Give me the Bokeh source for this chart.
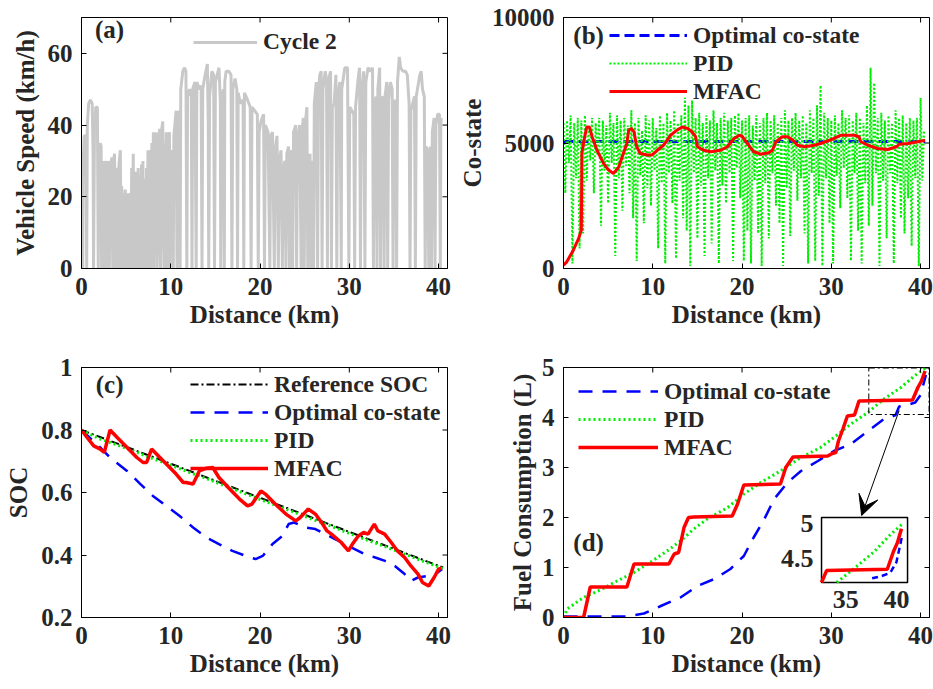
import numpy as np
from bokeh.plotting import figure
from bokeh.layouts import gridplot
from bokeh.models import Range1d, FixedTicker, Label, Arrow, VeeHead
from bokeh.embed import file_html
from bokeh.resources import INLINE
from bokeh.core.properties import value

FONT = "Liberation Serif"
TXT = "#262626"
GRAY = "#c8c8c8"
RED = "#ff0000"
GREEN = "#00ee00"
BLUE = "#0000ff"

# ---------------- (a) driving cycle: (distance km, speed km/h) ----------------
cycle2_points = [
    (0, 0), (0.03, 29), (0.1, 25), (0.14, 0), (0.2, 30), (0.3, 37), (0.5, 37), (0.55, 20), (0.58, 0),
    (0.65, 40), (0.8, 46), (1.0, 47), (1.2, 46), (1.3, 32), (1.35, 0), (1.45, 38), (1.6, 45), (1.78, 45),
    (1.85, 12), (1.88, 0), (1.95, 30), (2.1, 35), (2.2, 34), (2.25, 0), (2.3, 25), (2.4, 30), (2.5, 0),
    (2.55, 22), (2.7, 30), (2.8, 19), (2.84, 0), (2.9, 26), (3.05, 30), (3.12, 0), (3.2, 27), (3.4, 31),
    (3.5, 0), (3.55, 29), (3.7, 32), (3.78, 10), (3.82, 0), (3.9, 27), (4.1, 28), (4.15, 0), (4.2, 29),
    (4.35, 33), (4.45, 0), (4.5, 23), (4.58, 12), (4.65, 21), (4.7, 0), (4.78, 15), (4.9, 22), (4.98, 0),
    (5.05, 20), (5.12, 9), (5.2, 21), (5.25, 0), (5.35, 18), (5.5, 21), (5.55, 0), (5.62, 28), (5.7, 14),
    (5.8, 32), (5.85, 0), (5.9, 24), (6.05, 27), (6.1, 0), (6.18, 26), (6.26, 10), (6.35, 28), (6.4, 0),
    (6.45, 22), (6.6, 26), (6.65, 0), (6.72, 29), (6.8, 12), (6.88, 30), (6.92, 0), (7.0, 20), (7.15, 25),
    (7.2, 0), (7.28, 28), (7.36, 15), (7.45, 33), (7.5, 0), (7.58, 26), (7.75, 33), (7.8, 0), (7.88, 35),
    (7.96, 18), (8.05, 38), (8.12, 0), (8.2, 30), (8.4, 38), (8.48, 0), (8.55, 35), (8.65, 20), (8.75, 39),
    (8.82, 5), (8.86, 0), (8.95, 38), (9.1, 41), (9.2, 10), (9.25, 0), (9.3, 35), (9.4, 22), (9.5, 38),
    (9.58, 0), (9.65, 33), (9.85, 38), (9.92, 0), (10.0, 30), (10.2, 33), (10.28, 0), (10.35, 37),
    (10.6, 44), (10.7, 0), (10.78, 40), (10.95, 44), (11.05, 0), (11.12, 50), (11.35, 55), (11.55, 56),
    (11.7, 55), (11.8, 0), (11.88, 48), (12.1, 50), (12.3, 48), (12.38, 0), (12.45, 50), (12.7, 52),
    (12.85, 0), (12.92, 52), (13.2, 50), (13.4, 51), (13.5, 0), (13.58, 50), (13.85, 54), (14.1, 57),
    (14.2, 40), (14.25, 0), (14.35, 48), (14.6, 55), (14.8, 54), (14.9, 0), (15.0, 52), (15.2, 54),
    (15.4, 56), (15.55, 47), (15.6, 0), (15.7, 47), (15.9, 50), (16.0, 0), (16.05, 52), (16.2, 55),
    (16.5, 55), (16.75, 54), (16.85, 0), (16.95, 50), (17.2, 53), (17.4, 50), (17.48, 0), (17.55, 49),
    (17.8, 46), (18.1, 47), (18.18, 0), (18.25, 49), (18.6, 47), (18.9, 45), (19.0, 0), (19.1, 45),
    (19.4, 44), (19.7, 43), (19.8, 0), (19.9, 38), (20.1, 41), (20.4, 43), (20.5, 0), (20.6, 40),
    (20.9, 38), (21.1, 0), (21.2, 37), (21.4, 38), (21.6, 0), (21.7, 33), (21.9, 37), (22.05, 0),
    (22.15, 30), (22.35, 33), (22.5, 0), (22.6, 28), (22.8, 30), (22.9, 0), (23.0, 32), (23.2, 34),
    (23.3, 0), (23.4, 30), (23.55, 33), (23.65, 0), (23.75, 38), (24.0, 40), (24.1, 0), (24.2, 36),
    (24.45, 40), (24.6, 0), (24.7, 38), (24.85, 42), (24.95, 0), (25.05, 40), (25.25, 45), (25.35, 0),
    (25.42, 30), (25.6, 32), (25.7, 0), (25.8, 28), (25.95, 30), (26.0, 0), (26.08, 46), (26.3, 52),
    (26.45, 0), (26.55, 50), (26.7, 54), (26.85, 55), (26.95, 0), (27.05, 50), (27.3, 55), (27.45, 53),
    (27.55, 0), (27.6, 50), (27.8, 54), (27.9, 55), (28.0, 0), (28.1, 45), (28.3, 46), (28.5, 54),
    (28.6, 0), (28.7, 48), (28.95, 52), (29.1, 0), (29.15, 50), (29.5, 56), (29.8, 56), (29.95, 0),
    (30.05, 45), (30.3, 44), (30.5, 43), (30.6, 0), (30.7, 45), (30.95, 52), (31.15, 56), (31.25, 0),
    (31.35, 48), (31.6, 55), (31.75, 0), (31.85, 52), (32.1, 56), (32.4, 55), (32.6, 56), (32.7, 0),
    (32.8, 45), (33.0, 48), (33.1, 0), (33.2, 50), (33.4, 56), (33.5, 0), (33.6, 47), (33.8, 48),
    (33.9, 0), (34.0, 48), (34.2, 52), (34.3, 0), (34.4, 47), (34.6, 52), (34.8, 50), (34.9, 0),
    (35.0, 46), (35.2, 47), (35.3, 0), (35.4, 52), (35.6, 59), (35.75, 56), (36.0, 55), (36.3, 55),
    (36.5, 54), (36.7, 46), (36.8, 0), (36.9, 44), (37.1, 46), (37.3, 48), (37.4, 0), (37.5, 48),
    (37.7, 51), (37.9, 54), (38.05, 55), (38.2, 50), (38.4, 48), (38.5, 0), (38.6, 34), (38.8, 33),
    (38.9, 0), (38.95, 30), (39.1, 34), (39.2, 0), (39.3, 38), (39.5, 42), (39.6, 0), (39.7, 40),
    (39.9, 43), (40.1, 43), (40.2, 0), (40.25, 40), (40.3, 42),
]

# ---------------- (b) co-state ----------------
optimal_costate_dist = [0, 40.5]
optimal_costate = [5060, 5060]
pid_step_km = 0.2
pid_costate = [
    5800, 3000, 5900, 4200, 6100, 200, 5800, 3600, 6000, 800,
    5900, 1400, 6100, 3500, 5600, 4300, 6000, 3000, 5800, 4500,
    6000, 1700, 5900, 3900, 5700, 2600, 6200, 4200, 5800, 500,
    6100, 3600, 5900, 2300, 6000, 4100, 5700, 3000, 6300, 2000,
    5800, 300, 6000, 3700, 5500, 1800, 6100, 3200, 5900, 2500,
    6000, 3900, 5600, 800, 6100, 3400, 5800, 200, 6200, 3800,
    5900, 2600, 6300, 400, 5800, 3500, 6100, 2000, 6800, 1500,
    6500, 100, 6700, 3800, 6000, 1200, 6200, 3300, 5800, 500,
    6100, 3600, 5900, 1000, 6300, 3900, 5800, 200, 6000, 3300,
    6200, 2600, 5900, 3800, 6000, 300, 6100, 4000, 6200, 2800,
    5900, 300, 6000, 1500, 6100, 200, 5700, 3500, 6100, 1400,
    5800, 100, 6000, 3400, 6200, 1200, 5900, 3800, 6100, 2500,
    5800, 1800, 6000, 100, 6300, 3200, 5900, 1300, 6000, 3900,
    6200, 2700, 5900, 3600, 6100, 1400, 5800, 200, 6300, 3800,
    6000, 300, 6500, 2900, 7300, 100, 6200, 3600, 6000, 1800,
    5900, 200, 6100, 3700, 5800, 2400, 6300, 4000, 6000, 2800,
    6100, 300, 5900, 3800, 6200, 1500, 6000, 200, 5800, 3400,
    6500, 1700, 8000, 2500, 7400, 3800, 6000, 100, 6200, 3500,
    5900, 1200, 6100, 3800, 5800, 200, 6300, 3400, 6000, 2000,
    6100, 1400, 5800, 2800, 6000, 900, 5900, 3600, 6000, 100,
    6800, 3500, 5500,
]
mfac_costate_points = [
    (0, 130), (0.37, 265), (1.1, 730), (1.7, 1200), (2.0, 1530), (2.06, 4580), (2.3, 5110), (2.6, 5640),
    (2.9, 5640), (3.2, 5250), (3.75, 4710), (4.5, 4180), (5.05, 3920), (5.6, 3785), (6.2, 4050),
    (6.7, 4580), (7.1, 4980), (7.3, 5510), (7.6, 5580), (7.9, 5440), (8.2, 4850), (8.6, 4580),
    (9.4, 4520), (9.9, 4520), (10.5, 4710), (11.2, 4910), (12.0, 5310), (12.7, 5510), (13.3, 5640),
    (13.9, 5580), (14.4, 5440), (14.8, 5250), (15.0, 4850), (15.7, 4710), (16.5, 4650), (17.6, 4710),
    (18.35, 4850), (19.1, 5180), (19.7, 5310), (20.0, 5270), (20.6, 4980), (21.3, 4650), (22.1, 4555),
    (23.0, 4610), (23.4, 4710), (23.8, 5050), (24.5, 5250), (25.1, 5250), (25.7, 5110), (26.2, 4910),
    (27.0, 4850), (28.1, 4910), (28.8, 4980), (29.8, 5110), (30.3, 5180), (31.1, 5310), (31.8, 5310),
    (32.6, 5310), (33.1, 5250), (33.3, 5050), (34.1, 4910), (35.2, 4780), (36.3, 4740), (37.3, 4850),
    (37.6, 4950), (38.6, 4980), (39.7, 5050), (40.5, 5110),
]

# ---------------- (c) SOC ----------------
ref_soc_points = [(0, 0.80), (10, 0.692), (20, 0.583), (30, 0.474), (40.5, 0.36)]
optimal_soc_points = [
    (0, 0.8), (2.1, 0.744), (3.2, 0.712), (5.1, 0.669), (6.6, 0.627), (8.0, 0.589), (9.5, 0.557),
    (11.0, 0.525), (12.5, 0.488), (14.0, 0.456), (15.4, 0.435), (16.9, 0.413), (18.4, 0.397),
    (19.5, 0.387), (20.3, 0.397), (21.4, 0.435), (22.5, 0.461), (23.2, 0.499), (23.8, 0.504),
    (25.1, 0.488), (26.2, 0.483), (27.3, 0.467), (28.4, 0.451), (29.5, 0.435), (30.6, 0.419),
    (31.7, 0.403), (32.9, 0.392), (34.0, 0.381), (35.1, 0.365), (36.2, 0.339), (36.9, 0.317),
    (37.7, 0.328), (38.8, 0.333), (39.9, 0.344), (40.4, 0.355),
]
pid_soc_points = [
    (0, 0.8), (2, 0.772), (4, 0.752), (6, 0.731), (8, 0.708), (10, 0.688), (12, 0.665), (14, 0.645),
    (16, 0.622), (18, 0.6), (20, 0.578), (22, 0.556), (24, 0.535), (26, 0.513), (28, 0.492),
    (30, 0.469), (32, 0.448), (34, 0.427), (36, 0.405), (38, 0.383), (40, 0.362), (40.5, 0.356),
]
mfac_soc_points = [
    (0, 0.8), (0.63, 0.776), (1.37, 0.749), (2.1, 0.739), (2.55, 0.728), (3.2, 0.8), (4.0, 0.776),
    (5.1, 0.744), (6.2, 0.712), (6.9, 0.696), (7.3, 0.696), (7.85, 0.739), (8.4, 0.723), (9.5, 0.691),
    (10.6, 0.659), (11.4, 0.632), (11.7, 0.632), (12.5, 0.627), (13.2, 0.669), (14.0, 0.678),
    (14.7, 0.68), (15.4, 0.648), (16.6, 0.611), (17.7, 0.579), (18.6, 0.557), (19.1, 0.563),
    (20.1, 0.605), (20.6, 0.595), (21.7, 0.563), (22.9, 0.531), (24.0, 0.509), (24.5, 0.52),
    (25.4, 0.547), (26.2, 0.531), (26.9, 0.504), (27.5, 0.477), (28.0, 0.467), (29.1, 0.44),
    (29.9, 0.413), (30.4, 0.437), (31.0, 0.461), (31.6, 0.472), (32.1, 0.467), (32.8, 0.499),
    (33.2, 0.477), (33.96, 0.467), (34.7, 0.44), (35.4, 0.413), (36.2, 0.392), (36.9, 0.365),
    (37.7, 0.339), (38.2, 0.312), (38.9, 0.301), (39.5, 0.328), (40.0, 0.355), (40.3, 0.358),
]

# ---------------- (d) fuel consumption ----------------
optimal_fuel_points = [
    (0, 0.02), (7.0, 0.02), (9.0, 0.08), (10.9, 0.23), (13.1, 0.4), (15.0, 0.63), (16.9, 0.77),
    (18.7, 0.97), (20.2, 1.23), (21.3, 1.6), (22.5, 1.97), (23.6, 2.37), (25.1, 2.7), (26.6, 2.93),
    (28.5, 3.13), (30.3, 3.33), (32.2, 3.47), (34.1, 3.73), (35.9, 3.97), (36.6, 4.0), (37.2, 4.05),
    (37.6, 4.22), (38.5, 4.25), (39.4, 4.3), (40.0, 4.45), (40.6, 4.85),
]
pid_fuel_points = [
    (0, 0), (0.4, 0.17), (2.25, 0.4), (4.1, 0.55), (6.0, 0.73), (7.9, 0.9), (9.7, 1.1), (11.6, 1.33),
    (13.1, 1.53), (14.6, 1.77), (16.1, 1.97), (18.4, 2.2), (20.2, 2.47), (22.1, 2.7), (24.3, 2.93),
    (26.6, 3.2), (28.8, 3.4), (30.3, 3.6), (32.2, 3.87), (34.1, 4.1), (35.9, 4.37), (37.8, 4.6),
    (39.3, 4.83), (40.6, 5.0),
]
mfac_fuel_points = [
    (0, 0), (2.25, 0), (3.0, 0.61), (7.1, 0.61), (7.9, 1.07), (11.8, 1.07), (12.4, 1.27), (12.9, 1.3),
    (13.5, 1.8), (14.0, 2.0), (14.6, 2.01), (18.9, 2.03), (19.5, 2.27), (20.2, 2.65), (24.3, 2.67),
    (24.9, 3.0), (25.7, 3.21), (29.6, 3.23), (30.1, 3.28), (30.5, 3.3), (30.8, 3.53), (31.3, 3.77),
    (31.8, 4.03), (32.6, 4.05), (33.1, 4.33), (39.1, 4.35), (39.7, 4.6), (40.1, 4.73), (40.5, 4.93),
]
inset_xlim = (32.6, 41.1)
inset_ylim = (4.16, 5.09)
inset_xticks = [35, 40]
inset_yticks = [4.5, 5]
zoom_box = (34.2, 40.95, 4.06, 4.99)

XTICKS = [0, 10, 20, 30, 40]


def xy(points):
    a = np.array(points, dtype=float)
    return a[:, 0], a[:, 1]


def make_fig(w, h, xr, yr, bl, br, bt, bb):
    p = figure(width=w, height=h, x_range=Range1d(*xr), y_range=Range1d(*yr),
               output_backend="svg", toolbar_location=None,
               min_border_left=bl, min_border_right=br, min_border_top=bt, min_border_bottom=bb)
    p.grid.visible = False
    p.outline_line_color = "black"
    p.outline_line_width = 1
    p.background_fill_color = "white"
    p.border_fill_color = "white"
    return p


def style_axes(p, xticks, yticks, xlabel, ylabel, yover=None, ylab_standoff=6):
    p.xaxis.ticker = FixedTicker(ticks=xticks)
    p.yaxis.ticker = FixedTicker(ticks=yticks)
    p.xaxis.axis_label = xlabel
    p.yaxis.axis_label = ylabel
    for ax in (p.xaxis[0], p.yaxis[0]):
        ax.axis_label_text_font = FONT
        ax.axis_label_text_font_size = "25px"
        ax.axis_label_text_font_style = "bold"
        ax.axis_label_text_color = TXT
        ax.major_label_text_font = FONT
        ax.major_label_text_font_size = "25px"
        ax.major_label_text_font_style = "bold"
        ax.major_label_text_color = TXT
        ax.major_tick_in = 5
        ax.major_tick_out = 0
        ax.minor_tick_line_color = None
        ax.axis_line_color = "black"
        ax.major_tick_line_color = "black"
    p.xaxis.major_label_standoff = 9
    p.xaxis.axis_label_standoff = 3
    p.yaxis.major_label_standoff = 9
    p.yaxis.axis_label_standoff = ylab_standoff
    if yover:
        p.yaxis.major_label_overrides = yover
    # inward ticks on the top and right edges (half of each dash is clipped by the frame)
    xr, yr = p.x_range, p.y_range
    p.scatter(x=xticks, y=[yr.end] * len(xticks), marker="dash", size=10, angle=np.pi / 2,
              line_color="black", line_width=1)
    p.scatter(x=[xr.end] * len(yticks), y=yticks, marker="dash", size=10,
              line_color="black", line_width=1)


def style_legend(p, x, y, glyph_w, lh=28):
    lg = p.legend[0]
    lg.location = (x, y)
    lg.label_text_font = FONT
    lg.label_text_font_size = "23.5px"
    lg.label_text_font_style = "bold"
    lg.label_text_color = TXT
    lg.glyph_width = glyph_w
    lg.glyph_height = lh
    lg.label_height = lh
    lg.label_standoff = 6
    lg.spacing = 0
    lg.padding = 0
    lg.margin = 0
    lg.border_line_color = None
    lg.background_fill_alpha = 0


def panel_label(p, x, y, t):
    p.add_layout(Label(x=x, y=y, text=t, text_baseline="middle", text_font=FONT,
                       text_font_size="25px", text_font_style="bold", text_color=TXT))


# ---- (a)
pa = make_fig(455, 340, (0, 41), (0, 70), 81, 8, 17, 72)
da, va = xy(cycle2_points)
pa.line(da, va, line_color=GRAY, line_width=3, legend_label="Cycle 2")
style_axes(pa, XTICKS, [0, 20, 40, 60], "Distance (km)", "Vehicle Speed (km/h)")
style_legend(pa, 112, 213, 64, 26)
panel_label(pa, 1.5, 66.6, "(a)")

# ---- (b)
pb = make_fig(478, 340, (0, 41), (0, 10000), 108, 4, 17, 72)
pid_dist = [round(i * pid_step_km, 1) for i in range(len(pid_costate))]
pb.line(optimal_costate_dist, optimal_costate, line_color=BLUE, line_width=3, line_dash="10 5",
        legend_label="Optimal co-state")
pb.line(pid_dist, pid_costate, line_color=GREEN, line_width=2, line_dash="2 2",
        legend_label="PID")
mb_x, mb_y = xy(mfac_costate_points)
pb.line(mb_x, mb_y, line_color=RED, line_width=3, legend_label="MFAC")
style_axes(pb, XTICKS, [0, 5000, 10000], "Distance (km)", "Co-state", ylab_standoff=3)
style_legend(pb, 46, 163, 78)
panel_label(pb, 1.1, 9300, "(b)")

# ---- (c)
pc = make_fig(455, 349, (0, 41), (0.2, 1.0), 81, 8, 27, 72)
rx, ry = xy(ref_soc_points)
pc.line(rx, ry, line_color="black", line_width=2, line_dash="8 3 2 3", legend_label="Reference SOC")
ox, oy = xy(optimal_soc_points)
pc.line(ox, oy, line_color=BLUE, line_width=2.5, line_dash="14 10", legend_label="Optimal co-state")
gx, gy = xy(pid_soc_points)
pc.line(gx, gy, line_color=GREEN, line_width=3, line_dash="2 3", legend_label="PID")
cx, cy = xy(mfac_soc_points)
pc.line(cx, cy, line_color=RED, line_width=3.5, legend_label="MFAC")
style_axes(pc, XTICKS, [0.2, 0.4, 0.6, 0.8, 1.0], "Distance (km)", "SOC",
           yover={0.2: "0.2", 0.4: "0.4", 0.6: "0.6", 0.8: "0.8", 1.0: "1"})
style_legend(pc, 109, 135, 78)
panel_label(pc, 1.6, 0.945, "(c)")

# ---- (d)
pd_ = make_fig(478, 349, (0, 41), (0, 5), 108, 4, 27, 72)
fx, fy = xy(optimal_fuel_points)
pd_.line(fx, fy, line_color=BLUE, line_width=2.5, line_dash="14 10", legend_label="Optimal co-state")
px_, py_ = xy(pid_fuel_points)
pd_.line(px_, py_, line_color=GREEN, line_width=3, line_dash="2 3", legend_label="PID")
mx, my = xy(mfac_fuel_points)
pd_.line(mx, my, line_color=RED, line_width=3.5, legend_label="MFAC")
style_axes(pd_, XTICKS, [0, 1, 2, 3, 4, 5], "Distance (km)", "Fuel Consumption (L)", ylab_standoff=3)
style_legend(pd_, 15, 156, 80)
panel_label(pd_, 1.1, 1.5, "(d)")

# zoom rectangle and arrow
pd_.quad(left=[zoom_box[0]], right=[zoom_box[1]], bottom=[zoom_box[2]], top=[zoom_box[3]],
         fill_color=None, line_color="black", line_width=1, line_dash="6 3 2 3")
pd_.add_layout(Arrow(end=VeeHead(size=20, fill_color="black", line_color="black"),
                     x_start=37.6, y_start=4.14, x_end=33.4, y_end=2.04,
                     line_color="black", line_width=1))

# inset drawn on extra ranges mapped onto a sub-rectangle of the frame
fx0, fx1 = 0.705, 0.940   # fraction of frame width
fy0, fy1 = 0.14, 0.40     # fraction of frame height
xs = (inset_xlim[1] - inset_xlim[0]) / (fx1 - fx0)
ys = (inset_ylim[1] - inset_ylim[0]) / (fy1 - fy0)
x_start = inset_xlim[0] - fx0 * xs
y_start = inset_ylim[0] - fy0 * ys
pd_.extra_x_ranges = {"ix": Range1d(x_start, x_start + xs)}
pd_.extra_y_ranges = {"iy": Range1d(y_start, y_start + ys)}
pd_.quad(left=[inset_xlim[0]], right=[inset_xlim[1]], bottom=[inset_ylim[0]], top=[inset_ylim[1]],
         fill_color="white", line_color="black", line_width=1.5, x_range_name="ix", y_range_name="iy")


def inset_clip(xv, yv, clip_y=True):
    m = (xv >= inset_xlim[0]) & (xv <= inset_xlim[1])
    xv, yv = xv[m], yv[m]
    if clip_y:
        yv = np.clip(yv, inset_ylim[0], inset_ylim[1])
    else:
        k = yv >= inset_ylim[0]
        xv, yv = xv[k], yv[k]
    return xv, yv


ix, iy = inset_clip(fx, fy, clip_y=False)
pd_.line(ix, iy, line_color=BLUE, line_width=2.5, line_dash="6 4", x_range_name="ix", y_range_name="iy")
ix, iy = inset_clip(px_, py_)
pd_.line(ix, iy, line_color=GREEN, line_width=3, line_dash="2 3", x_range_name="ix", y_range_name="iy")
ix, iy = inset_clip(mx, my)
pd_.line(ix, iy, line_color=RED, line_width=3.5, x_range_name="ix", y_range_name="iy")

pd_.text(x=[inset_xlim[0]] * len(inset_yticks), y=inset_yticks, text=[("%g" % t) for t in inset_yticks],
         x_offset=-8, text_align="right", text_baseline="middle", text_font=value(FONT),
         text_font_size="26px", text_font_style="bold", text_color=TXT,
         x_range_name="ix", y_range_name="iy")
pd_.text(x=inset_xticks, y=[inset_ylim[0]] * len(inset_xticks), text=[str(t) for t in inset_xticks],
         y_offset=8, text_align="center", text_baseline="top", text_font=value(FONT),
         text_font_size="26px", text_font_style="bold", text_color=TXT,
         x_range_name="ix", y_range_name="iy")

grid = gridplot([[pa, pb], [pc, pd_]], toolbar_location=None)
open("out.html", "w").write(file_html(grid, INLINE))
